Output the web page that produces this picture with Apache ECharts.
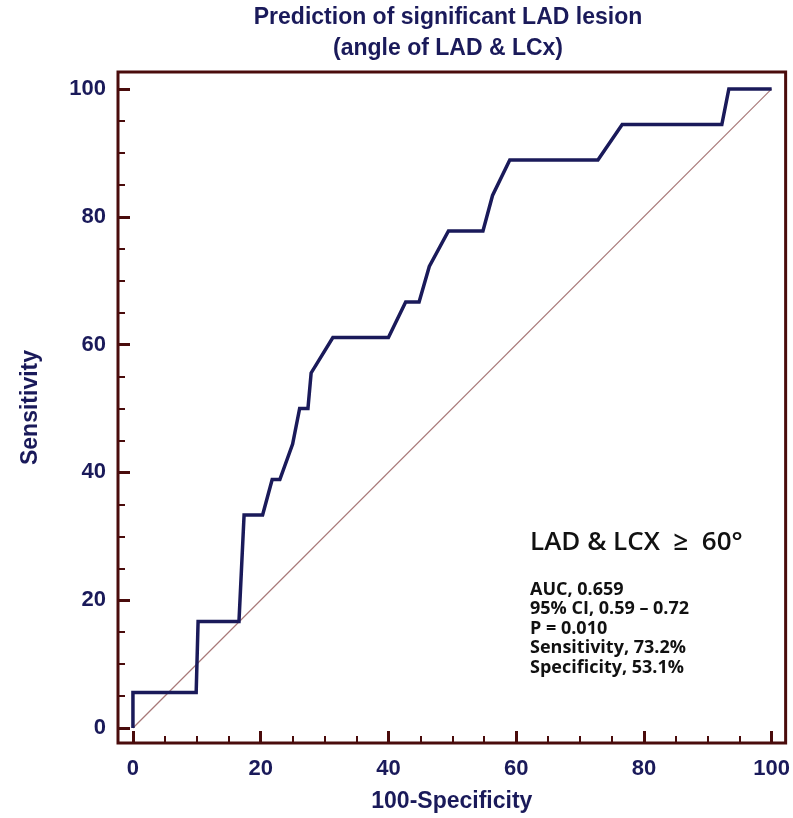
<!DOCTYPE html>
<html>
<head>
<meta charset="utf-8">
<script src="https://cdn.jsdelivr.net/npm/echarts@6/dist/echarts.min.js"></script>
<style>
  html, body { margin: 0; padding: 0; background: #fff; }
  #chart { width: 793px; height: 818px; }
</style>
</head>
<body>
<div id="chart"></div>
<script>
// ROC curve (100-Specificity, Sensitivity)
const fpr = [0, 0, 9.9, 10.2, 16.6, 17.4, 20.3, 21.8, 23.0, 25.0, 26.1, 27.4, 27.9, 31.3, 40.0, 42.7, 44.8, 46.4, 49.4, 54.8, 56.3, 59.0, 72.8, 76.6, 92.2, 93.3, 100]
const sens = [0, 5.56, 5.56, 16.67, 16.67, 33.33, 33.33, 38.89, 38.89, 44.44, 50, 50, 55.56, 61.11, 61.11, 66.67, 66.67, 72.22, 77.78, 77.78, 83.33, 88.89, 88.89, 94.44, 94.44, 100, 100]
const refLine = [[0, 0], [100, 100]]

const majorTicks = [0, 20, 40, 60, 80, 100]
const minorTicks = [5, 10, 15, 25, 30, 35, 45, 50, 55, 65, 70, 75, 85, 90, 95]

const titleLines = ['Prediction of significant LAD lesion', '(angle of LAD & LCx)']
const noteTitle = 'LAD & LCX  \u2265  60\u00b0'
const noteLines = ['AUC, 0.659', '95% CI, 0.59 \u2013 0.72', 'P = 0.010', 'Sensitivity, 73.2%', 'Specificity, 53.1%']

const navy = '#1a1a5a'
const frame = '#4a0c0c'
const labelFont = 'Liberation Sans'

const chart = echarts.init(document.getElementById('chart'))

const majorAxis = (extra) => Object.assign({
  type: 'value',
  splitLine: { show: false },
  axisLine: { show: false, onZero: false },
  axisTick: { show: true, inside: true, length: 12, customValues: majorTicks, lineStyle: { color: frame, width: 3 } },
  axisLabel: {
    customValues: majorTicks, color: navy, fontFamily: labelFont,
    fontWeight: 'bold', fontSize: 22
  },
  nameLocation: 'middle',
  nameTextStyle: { color: navy, fontFamily: labelFont, fontWeight: 'bold', fontSize: 23 }
}, extra)

const minorAxis = (extra) => Object.assign({
  type: 'value',
  splitLine: { show: false },
  axisLine: { show: false, onZero: false },
  axisLabel: { show: false },
  axisTick: { show: true, inside: true, length: 7, customValues: minorTicks, lineStyle: { color: frame, width: 2 } }
}, extra)

const option = {
  backgroundColor: '#fff',
  animation: false,
  title: {
    text: titleLines.join('\n'),
    left: 448,
    top: 2,
    padding: 0,
    textAlign: 'center',
    textStyle: { color: navy, fontFamily: labelFont, fontWeight: 'bold', fontSize: 23, lineHeight: 31 }
  },
  grid: {
    left: 118, right: 6, top: 72, bottom: 73,
    show: true, borderColor: frame, borderWidth: 3, backgroundColor: '#fff'
  },
  xAxis: [
    majorAxis({ min: -2.34, max: 102.19, position: 'bottom', name: '100-Specificity', nameGap: 47,
      axisLabel: Object.assign({}, majorAxis({}).axisLabel, { margin: 15 }) }),
    minorAxis({ min: -2.34, max: 102.19, position: 'bottom' })
  ],
  yAxis: [
    majorAxis({ min: -2.34, max: 102.65, position: 'left', name: 'Sensitivity', nameGap: 76,
      axisLabel: Object.assign({}, majorAxis({}).axisLabel, { margin: 12 }) }),
    minorAxis({ min: -2.34, max: 102.65, position: 'left' })
  ],
  series: [
    {
      type: 'line',
      data: refLine,
      symbol: 'none',
      lineStyle: { color: '#a87878', width: 1.2 },
      z: 2
    },
    {
      type: 'line',
      data: fpr.map((x, i) => [x, sens[i]]),
      symbol: 'none',
      lineStyle: { color: navy, width: 3.5, join: 'miter' },
      z: 3
    }
  ],
  graphic: [
    {
      type: 'text', left: 530, top: 530,
      style: { text: noteTitle, fill: '#111', font: '600 26px "Open Sans"' }
    },
    {
      type: 'text', left: 530, top: 580,
      style: { text: noteLines.join('\n'), fill: '#111', font: 'bold 18px "Open Sans"', lineHeight: 19.5 }
    }
  ]
}

chart.setOption(option)
</script>
</body>
</html>
